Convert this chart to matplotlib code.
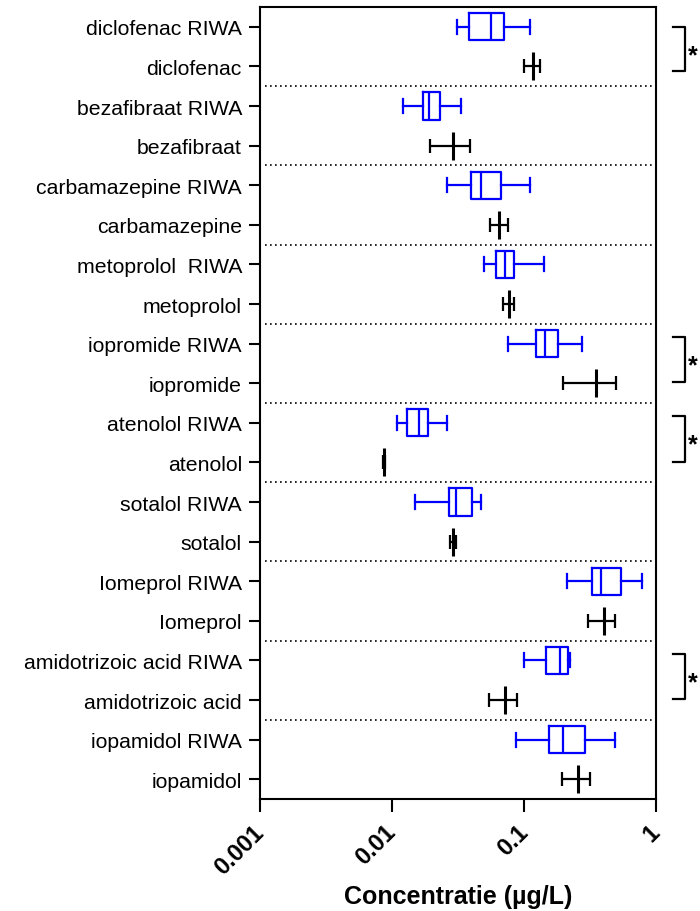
import numpy as np
import matplotlib
matplotlib.use('Agg')
import matplotlib.pyplot as plt
import matplotlib.transforms as mtransforms

plt.rcParams['font.family'] = ['Liberation Sans', 'DejaVu Sans']

# --- data (µg/L) ---
stoffen = ['diclofenac', 'bezafibraat', 'carbamazepine', 'metoprolol ', 'iopromide',
           'atenolol', 'sotalol', 'Iomeprol', 'amidotrizoic acid', 'iopamidol']
labels_meting = ['diclofenac', 'bezafibraat', 'carbamazepine', 'metoprolol', 'iopromide',
                 'atenolol', 'sotalol', 'Iomeprol', 'amidotrizoic acid', 'iopamidol']

# RIWA boxplots: whisker low, Q1, median, Q3, whisker high
riwa_wlo = [0.031, 0.0120, 0.0259, 0.0495, 0.0757, 0.0109, 0.0149, 0.211, 0.100, 0.0869]
riwa_q1 = [0.0381, 0.0170, 0.0395, 0.0610, 0.1225, 0.0129, 0.0269, 0.326, 0.145, 0.155]
riwa_med = [0.0562, 0.0191, 0.0472, 0.0710, 0.144, 0.0160, 0.0305, 0.383, 0.187, 0.197]
riwa_q3 = [0.0702, 0.0231, 0.0670, 0.0840, 0.179, 0.0188, 0.0404, 0.543, 0.213, 0.290]
riwa_whi = [0.111, 0.0331, 0.111, 0.142, 0.273, 0.0261, 0.0472, 0.783, 0.220, 0.489]

# eigen metingen: gemiddelde met min/max
meting_lo = [0.100, 0.0194, 0.0546, 0.0690, 0.197, 0.0086, 0.0274, 0.305, 0.0543, 0.194]
meting_gem = [0.1156, 0.0288, 0.0647, 0.0766, 0.347, 0.0087, 0.0288, 0.399, 0.0714, 0.253]
meting_hi = [0.132, 0.0385, 0.0748, 0.0830, 0.495, 0.0088, 0.0302, 0.483, 0.0880, 0.313]

# significante verschillen (index van de stof)
significant = [0, 4, 5, 8]

BLAUW = '#0000FF'

fig = plt.figure(figsize=(7, 9.12), dpi=100)
ax = fig.add_axes([0.3714, 0.1228, 0.5664, 0.8684])

n = len(stoffen)
pos_riwa = np.arange(n) * 2
pos_meting = pos_riwa + 1

stats = []
for i in range(n):
    stats.append({'whislo': riwa_wlo[i], 'q1': riwa_q1[i], 'med': riwa_med[i],
                  'q3': riwa_q3[i], 'whishi': riwa_whi[i], 'fliers': []})

ax.bxp(stats, positions=pos_riwa, orientation='horizontal', widths=0.69,
       capwidths=0.35, showfliers=False,
       boxprops=dict(color=BLAUW, linewidth=1.6),
       medianprops=dict(color=BLAUW, linewidth=1.6),
       whiskerprops=dict(color=BLAUW, linewidth=1.6),
       capprops=dict(color=BLAUW, linewidth=1.6))

gem = np.array(meting_gem)
xerr = [gem - np.array(meting_lo), np.array(meting_hi) - gem]
ax.errorbar(gem, pos_meting, xerr=xerr, fmt='none', ecolor='black',
            elinewidth=1.6, capsize=5, capthick=1.6)
ax.plot(gem, pos_meting, linestyle='none', marker='|', markersize=20,
        markeredgewidth=2.2, color='black')

# stippellijnen tussen de stoffen
for i in range(n - 1):
    ax.axhline(pos_meting[i] + 0.5, xmin=0.012, xmax=0.992, color='black',
               linestyle=(0, (1, 2)), linewidth=1.2)

ax.set_xscale('log')
ax.set_xlim(0.001, 1)
ax.set_ylim(2 * n - 0.5, -0.5)

yticks = []
ylabels = []
for i in range(n):
    yticks += [pos_riwa[i], pos_meting[i]]
    ylabels += [stoffen[i] + ' RIWA', labels_meting[i]]
ax.set_yticks(yticks)
ax.set_yticklabels(ylabels, fontsize=15.3)

ax.set_xticks([0.001, 0.01, 0.1, 1])
ax.set_xticklabels(['0.001', '0.01', '0.1', '1'], fontsize=17, fontweight='bold',
                   rotation=45, ha='right', va='center', rotation_mode='anchor')
ax.minorticks_off()
ax.tick_params(axis='x', length=9, width=1.5, pad=12)
ax.tick_params(axis='y', length=8, width=1.5, pad=5)
ax.set_xlabel('Concentratie (µg/L)', fontsize=18, fontweight='bold', labelpad=4)

for sp in ax.spines.values():
    sp.set_linewidth(1.5)

# haken met sterretjes rechts van de grafiek
trans = mtransforms.blended_transform_factory(ax.transAxes, ax.transData)
for k, i in enumerate(significant):
    y0 = pos_riwa[i] - (0.0 if k == 0 else 0.17)
    y1 = pos_meting[i] + (0.12 if k == 0 else -0.02)
    ax.plot([1.042, 1.072, 1.072, 1.042], [y0, y0, y1, y1], color='black',
            linewidth=1.6, transform=trans, clip_on=False)
    ax.text(1.08, (y0 + y1) / 2 + 0.15, '*', transform=trans, fontsize=18,
            fontweight='bold', ha='left', va='center')

fig.savefig('out.png', dpi=100)
